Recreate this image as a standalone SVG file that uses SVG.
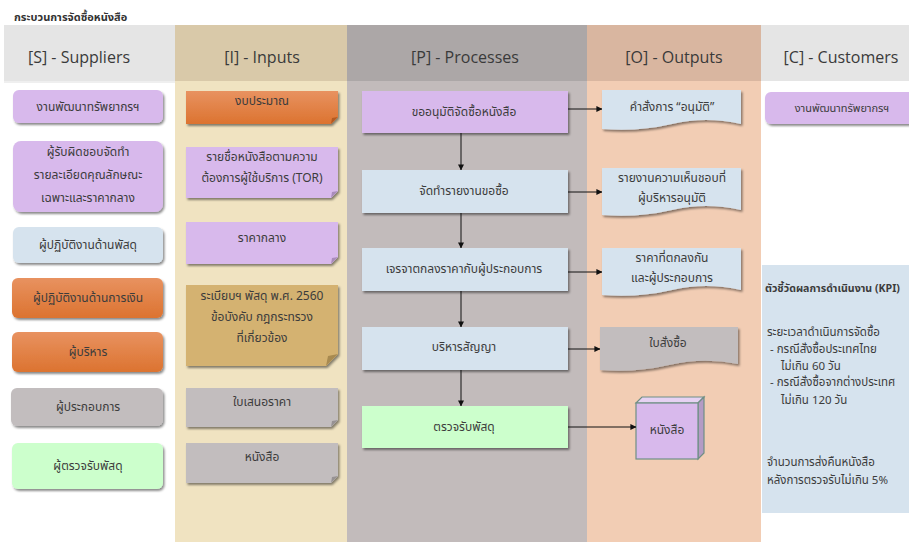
<svg xmlns="http://www.w3.org/2000/svg" width="909" height="542" viewBox="0 0 909 542">
<defs>
<style>
.th{font-family:"Noto Sans Thai","Noto Sans","DejaVu Sans",sans-serif;font-size:12px;fill:#3c3c3c;text-anchor:middle}
.hd{font-family:"Open Sans","Liberation Sans",sans-serif;font-size:16px;fill:#3a3a3a;text-anchor:middle}
.kp{font-family:"Noto Sans Thai","Noto Sans","DejaVu Sans",sans-serif;font-size:11.5px;fill:#3c3c3c}
.pu{fill:#d8b9ec}.bl{fill:#d6e3ee}.or{fill:url(#og)}.gr{fill:#c2bdbe}.gn{fill:#ccffcc}.tn{fill:#d4b271}
.ln{stroke:#111;stroke-width:1;fill:none}
</style>
<linearGradient id="og" x1="0" y1="0" x2="0" y2="1"><stop offset="0" stop-color="#e89260"/><stop offset="1" stop-color="#dc7330"/></linearGradient>
<filter id="sh" x="-10%" y="-20%" width="125%" height="150%"><feDropShadow dx="1.5" dy="2" stdDeviation="1.3" flood-color="#000" flood-opacity="0.45"/></filter>
<marker id="ah" viewBox="0 0 8 8" refX="7.5" refY="4" markerWidth="6" markerHeight="6" orient="auto" markerUnits="userSpaceOnUse"><path d="M0,0 L8,4 L0,8 Z" fill="#111"/></marker>
</defs>
<rect width="909" height="542" fill="#ffffff"/>
<text x="14" y="21" style="font-family:'Noto Sans Thai','Noto Sans',sans-serif;font-size:11px;font-weight:bold;fill:#333">กระบวนการจัดซื้อหนังสือ</text>

<g id="columns">
<rect x="4" y="25" width="171" height="56" fill="#e5e5e5"/>
<rect x="175" y="25" width="172" height="56" fill="#d9c9a9"/>
<rect x="175" y="81" width="172" height="461" fill="#f0e3c1"/>
<rect x="347" y="25" width="240" height="56" fill="#aca7a7"/>
<rect x="347" y="81" width="240" height="461" fill="#c2bbbb"/>
<rect x="587" y="25" width="174" height="56" fill="#d9b6a0"/>
<rect x="587" y="81" width="174" height="461" fill="#f2cdb4"/>
<rect x="761" y="25" width="148" height="56" fill="#e5e5e5"/>
<rect x="4" y="81" width="171" height="2" fill="#efefef"/>
<text class="hd" x="79" y="63">[S] - Suppliers</text>
<text class="hd" x="262" y="63">[I] - Inputs</text>
<text class="hd" x="465" y="63">[P] - Processes</text>
<text class="hd" x="674" y="63">[O] - Outputs</text>
<text class="hd" x="841" y="63">[C] - Customers</text>
</g>

<g id="s1"><rect x="13" y="90" width="150" height="33" rx="6" class="pu" filter="url(#sh)"/><text class="th" x="88" y="111">งานพัฒนาทรัพยากรฯ</text></g>
<g id="s2"><rect x="13" y="141" width="150" height="71" rx="8" class="pu" filter="url(#sh)"/><text class="th" x="88" y="156">ผู้รับผิดชอบจัดทำ</text><text class="th" x="88" y="179">รายละเอียดคุณลักษณะ</text><text class="th" x="88" y="202">เฉพาะและราคากลาง</text></g>
<g id="s3"><rect x="13" y="227" width="150" height="36" rx="6" class="bl" filter="url(#sh)"/><text class="th" x="88" y="249">ผู้ปฏิบัติงานด้านพัสดุ</text></g>
<g id="s4"><rect x="12" y="278" width="151" height="40" rx="6" class="or" filter="url(#sh)"/><text class="th" x="88" y="302">ผู้ปฏิบัติงานด้านการเงิน</text></g>
<g id="s5"><rect x="12" y="332" width="151" height="40" rx="6" class="or" filter="url(#sh)"/><text class="th" x="88" y="356">ผู้บริหาร</text></g>
<g id="s6"><rect x="11" y="388" width="152" height="38" rx="6" class="gr" filter="url(#sh)"/><text class="th" x="88" y="411">ผู้ประกอบการ</text></g>
<g id="s7"><rect x="12" y="443" width="151" height="46" rx="6" class="gn" filter="url(#sh)"/><text class="th" x="88" y="470">ผู้ตรวจรับพัสดุ</text></g>

<g id="i1"><path d="M186,91 H338 V117 L331,124 H186 Z" class="or" filter="url(#sh)"/><path d="M338,117 L331,124 L332,118 Z" fill="#b35a22"/><text class="th" x="262" y="105">งบประมาณ</text></g>
<g id="i2"><path d="M186,147 H338 V191 L331,198 H186 Z" class="pu" filter="url(#sh)"/><path d="M338,191 L331,198 L332,192 Z" fill="#a98cbb"/><text class="th" x="262" y="161">รายชื่อหนังสือตามความ</text><text class="th" x="262" y="182">ต้องการผู้ใช้บริการ (TOR)</text></g>
<g id="i3"><path d="M186,222 H338 V257 L331,264 H186 Z" class="pu" filter="url(#sh)"/><path d="M338,257 L331,264 L332,258 Z" fill="#a98cbb"/><text class="th" x="262" y="242">ราคากลาง</text></g>
<g id="i4"><path d="M186,285 H338 V354 L326,366 H186 Z" class="tn" filter="url(#sh)"/><path d="M338,354 L326,366 L328,356 Z" fill="#a88a50"/><text class="th" x="262" y="300">ระเบียบฯ พัสดุ พ.ศ. 2560</text><text class="th" x="262" y="321">ข้อบังคับ กฎกระทรวง</text><text class="th" x="262" y="342">ที่เกี่ยวข้อง</text></g>
<g id="i5"><path d="M186,388 H338 V420 L331,427 H186 Z" class="gr" filter="url(#sh)"/><path d="M338,420 L331,427 L332,421 Z" fill="#979293"/><text class="th" x="262" y="406">ใบเสนอราคา</text></g>
<g id="i6"><path d="M186,443 H338 V476 L331,483 H186 Z" class="gr" filter="url(#sh)"/><path d="M338,476 L331,483 L332,477 Z" fill="#979293"/><text class="th" x="262" y="461">หนังสือ</text></g>

<g id="p1"><rect x="362" y="91" width="206" height="42" class="pu" filter="url(#sh)"/><text class="th" x="464" y="116">ขออนุมัติจัดซื้อหนังสือ</text></g>
<g id="p2"><rect x="362" y="170" width="206" height="43" class="bl" filter="url(#sh)"/><text class="th" x="464" y="195">จัดทำรายงานขอซื้อ</text></g>
<g id="p3"><rect x="362" y="248" width="206" height="43" class="bl" filter="url(#sh)"/><text class="th" x="464" y="273">เจรจาตกลงราคากับผู้ประกอบการ</text></g>
<g id="p4"><rect x="362" y="327" width="206" height="43" class="bl" filter="url(#sh)"/><text class="th" x="464" y="351">บริหารสัญญา</text></g>
<g id="p5"><rect x="362" y="406" width="206" height="42" class="gn" filter="url(#sh)"/><text class="th" x="464" y="431">ตรวจรับพัสดุ</text></g>

<g id="o1"><path d="M602,90 H741 V124 Q706,116 672,124 T602,129 Z" class="bl" filter="url(#sh)"/><text class="th" x="672" y="111">คำสั่งการ “อนุมัติ”</text></g>
<g id="o2"><path d="M602,168 H741 V210 Q706,202 672,210 T602,215 Z" class="bl" filter="url(#sh)"/><text class="th" x="672" y="182">รายงานความเห็นชอบที่</text><text class="th" x="672" y="202">ผู้บริหารอนุมัติ</text></g>
<g id="o3"><path d="M602,248 H741 V290 Q706,282 672,290 T602,295 Z" class="bl" filter="url(#sh)"/><text class="th" x="672" y="262">ราคาที่ตกลงกัน</text><text class="th" x="672" y="282">และผู้ประกอบการ</text></g>
<g id="o4"><path d="M600,327 H738 V364 Q703,357 669,365 T600,370 Z" class="gr" filter="url(#sh)"/><text class="th" x="668" y="347">ใบสั่งซื้อ</text></g>
<g id="o5"><polygon points="636,403 642,397 704,397 698,403" fill="#e6d2f3" stroke="#6f8f85" stroke-width="1.2"/><polygon points="698,403 704,397 704,453 698,459" fill="#b49bc5" stroke="#6f8f85" stroke-width="1.2"/><rect x="636" y="403" width="62" height="56" class="pu" stroke="#6f8f85" stroke-width="1.2"/><text class="th" x="667" y="434">หนังสือ</text></g>

<g id="c1"><rect x="765" y="92" width="150" height="32" rx="6" class="pu" filter="url(#sh)"/><text class="th" x="842" y="112" style="font-size:11px">งานพัฒนาทรัพยากรฯ</text></g>
<g id="kpi"><rect x="762" y="265" width="150" height="248" fill="#d6e3ee"/>
<text class="kp" x="765" y="292" style="font-weight:bold;font-size:10.6px">ตัวชี้วัดผลการดำเนินงาน (KPI)</text>
<text class="kp" x="767" y="336">ระยะเวลาดำเนินการจัดซื้อ</text>
<text class="kp" x="770" y="353">- กรณีสั่งซื้อประเทศไทย</text>
<text class="kp" x="781" y="370">ไม่เกิน 60 วัน</text>
<text class="kp" x="770" y="386">- กรณีสั่งซื้อจากต่างประเทศ</text>
<text class="kp" x="781" y="404">ไม่เกิน 120 วัน</text>
<text class="kp" x="767" y="466">จำนวนการส่งคืนหนังสือ</text>
<text class="kp" x="767" y="484">หลังการตรวจรับไม่เกิน 5%</text>
</g>

<g id="connectors">
<path class="ln" d="M461,133 V170" marker-end="url(#ah)"/>
<path class="ln" d="M461,213 V248" marker-end="url(#ah)"/>
<path class="ln" d="M461,291 V327" marker-end="url(#ah)"/>
<path class="ln" d="M461,370 V406" marker-end="url(#ah)"/>
<path class="ln" d="M568,109 H602" marker-end="url(#ah)"/>
<path class="ln" d="M568,192 H602" marker-end="url(#ah)"/>
<path class="ln" d="M568,272 H602" marker-end="url(#ah)"/>
<path class="ln" d="M568,349 H600" marker-end="url(#ah)"/>
<path class="ln" d="M568,427 H636" marker-end="url(#ah)"/>
</g>
</svg>
